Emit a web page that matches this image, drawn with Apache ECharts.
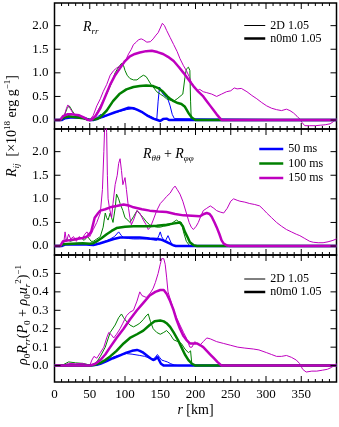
<!DOCTYPE html>
<html>
<head>
<meta charset="utf-8">
<script src="https://cdn.jsdelivr.net/npm/echarts@6/dist/echarts.min.js"></script>
<style>
  html, body { margin: 0; padding: 0; background: #fff; }
  #chart { width: 339px; height: 427px; }
</style>
</head>
<body>
<div id="chart"></div>
<script>
// colours per time slice
const timeNames = ['50 ms', '100 ms', '150 ms']
const timeColors = ['#0000ff', '#008000', '#bf00bf']
const modelNames = ['2D 1.05', 'n0m0 1.05']

// panel 1: R_rr  [km, 1e18 erg/g]
const rr2D50 = [[0,0],[10,0],[15,0.03],[20,0.06],[30,0.05],[40,0.04],[48,0.01],[52,0],[58,0.02],[62,0.08],[66,0.12],[68,0.05],[75,0.1],[83,0.15],[92,0.18],[102,0.22],[110,0.24],[121,0.2],[130,0.12],[140,0.05],[145,0],[147,0.4],[149,0.7],[152,0.6],[154,0.55],[157,0.5],[160,0.48],[164,0.3],[167,0.12],[170,0.03],[172,0],[400,0]]
const rrN50 = [[0,0],[10,0],[15,0.04],[25,0.06],[40,0.05],[50,0],[55,0],[65,0.05],[74,0.1],[85,0.16],[93,0.2],[105,0.26],[112,0.25],[117,0.22],[125,0.16],[131,0.1],[140,0.03],[146,0],[150,-0.02],[154,0.02],[159,0.03],[163,0],[400,0]]
const rr2D100 = [[0,0],[10,0],[14,0.1],[18,0.25],[21,0.3],[25,0.2],[30,0.08],[38,0.05],[45,0.02],[50,0],[55,0.02],[60,0.15],[67,0.35],[74,0.55],[80,0.75],[86,1.0],[90,1.1],[95,1.2],[98,1.15],[100,1.05],[103,0.95],[107,0.88],[112,0.85],[117,0.85],[121,0.9],[126,0.95],[130,0.92],[133,0.85],[137,0.75],[140,0.7],[145,0.6],[150,0.55],[155,0.5],[159,0.45],[164,0.42],[169,0.4],[174,0.45],[178,0.5],[182,0.55],[185,0.9],[187,1.08],[190,1.12],[192,1.05],[193,0.4],[194,0],[400,0]]
const rrN100 = [[0,0],[8,0],[12,0.05],[20,0.08],[30,0.06],[40,0.04],[50,0],[60,0.02],[65,0.06],[74,0.2],[83,0.4],[92,0.55],[102,0.65],[112,0.7],[121,0.72],[130,0.73],[140,0.72],[148,0.67],[154,0.6],[160,0.5],[164,0.45],[169,0.4],[175,0.36],[180,0.34],[185,0.28],[190,0.15],[195,0.05],[200,0],[400,0]]
const rr2D150 = [[0,0],[10,0],[14,0.1],[17,0.25],[19,0.32],[22,0.25],[26,0.15],[30,0.1],[36,0.05],[45,0.01],[50,0],[55,0.1],[60,0.3],[65,0.45],[69,0.6],[74,0.75],[79,0.95],[84,1.05],[88,1.1],[93,1.15],[98,1.2],[102,1.3],[105,1.4],[109,1.5],[112,1.6],[116,1.65],[119,1.7],[123,1.72],[126,1.7],[131,1.65],[136,1.66],[140,1.72],[144,1.8],[147,1.85],[150,1.95],[153,2.05],[156,2.0],[159,1.9],[164,1.75],[169,1.6],[174,1.45],[178,1.3],[183,1.15],[187,1.05],[191,0.92],[194,0.8],[198,0.7],[202,0.62],[206,0.65],[211,0.6],[216,0.58],[223,0.55],[230,0.5],[237,0.55],[244,0.6],[250,0.62],[255,0.68],[259,0.66],[265,0.67],[273,0.6],[280,0.52],[287,0.45],[294,0.37],[301,0.3],[308,0.25],[315,0.22],[322,0.2],[329,0.23],[334,0.2],[339,0.15],[344,0.08],[348,0.02],[351,-0.05],[355,-0.12],[362,-0.12],[370,-0.12],[377,-0.11],[384,-0.1],[391,-0.08],[396,-0.03],[400,0.03]]
const rrN150 = [[0,0],[8,0],[12,0.08],[18,0.12],[25,0.12],[35,0.1],[42,0.05],[48,0],[52,0],[58,0.08],[65,0.25],[72,0.5],[79,0.75],[86,0.95],[93,1.1],[100,1.25],[107,1.35],[114,1.4],[121,1.43],[130,1.46],[138,1.47],[146,1.44],[154,1.4],[161,1.34],[169,1.25],[176,1.13],[183,1.0],[190,0.86],[197,0.72],[204,0.6],[211,0.5],[216,0.4],[221,0.3],[226,0.2],[230,0.12],[234,0.05],[237,0],[400,0]]

// panel 2: R_thth + R_phph
const tt2D50 = [[0,0],[10,0],[15,0.05],[25,0.05],[35,0.06],[45,0.04],[52,0.02],[60,0.03],[65,0.05],[72,0.1],[79,0.15],[85,0.2],[91,0.3],[95,0.22],[98,0.18],[105,0.16],[112,0.15],[121,0.15],[131,0.15],[140,0.13],[145,0.12],[148,0.22],[150,0.3],[152,0.2],[154,0.15],[157,0.1],[159,0.1],[161,0.22],[163,0.15],[166,0.05],[169,0],[400,0]]
const ttN50 = [[0,0],[10,0],[15,0.03],[30,0.04],[45,0.03],[55,0.02],[65,0.06],[74,0.1],[84,0.15],[93,0.18],[105,0.18],[121,0.18],[135,0.16],[145,0.15],[150,0.14],[154,0.12],[160,0.08],[164,0.05],[168,0.02],[172,0],[400,0]]
const tt2D100 = [[0,0],[10,0],[13,0.1],[18,0.15],[22,0.1],[27,0.12],[32,0.15],[37,0.18],[42,0.12],[47,0.2],[52,0.1],[55,0.1],[60,0.15],[65,0.2],[69,0.4],[72,0.7],[74,0.6],[76,0.55],[79,0.7],[81,0.6],[83,0.5],[86,0.8],[88,1.1],[91,1.0],[93,0.9],[97,0.75],[100,0.6],[104,0.55],[107,0.5],[112,0.62],[117,0.75],[121,0.68],[126,0.6],[130,0.52],[135,0.45],[140,0.42],[145,0.4],[150,0.4],[155,0.42],[160,0.43],[164,0.45],[168,0.5],[173,0.55],[176,0.52],[180,0.5],[183,0.3],[187,0.1],[192,0],[400,0]]
const ttN100 = [[0,0],[8,0],[12,0.04],[25,0.05],[40,0.06],[50,0.05],[55,0.06],[60,0.1],[67,0.17],[74,0.25],[81,0.32],[88,0.38],[100,0.41],[112,0.42],[125,0.42],[135,0.42],[145,0.43],[159,0.45],[170,0.48],[178,0.5],[182,0.42],[185,0.3],[189,0.18],[192,0.08],[197,0.02],[202,0],[400,0]]
const tt2D150 = [[0,0],[10,0],[13,0.05],[15,0.3],[17,0.1],[20,0.25],[23,0.15],[27,0.2],[31,0.1],[35,0.2],[39,0.15],[43,0.25],[46,0.3],[50,0.2],[55,0.35],[60,0.5],[65,0.7],[68,1.2],[70,2.0],[72,2.9],[74,2.4],[75,1.5],[76,1.0],[78,0.8],[81,0.6],[83,0.9],[86,1.3],[89,1.5],[91,1.75],[93,1.85],[95,1.6],[97,1.3],[99,1.4],[100,1.45],[102,1.2],[105,0.8],[107,0.6],[109,0.45],[112,0.55],[117,0.75],[121,0.7],[126,0.55],[130,0.45],[133,0.35],[136,0.4],[140,0.55],[145,0.75],[150,0.9],[155,0.98],[159,1.05],[164,1.12],[168,1.22],[171,1.27],[174,1.2],[178,1.1],[182,0.95],[187,0.7],[191,0.5],[194,0.4],[197,0.35],[201,0.42],[204,0.5],[208,0.65],[211,0.75],[216,0.8],[221,0.85],[226,0.8],[230,0.75],[235,0.72],[240,0.7],[245,0.8],[250,0.95],[254,1.0],[259,0.97],[263,0.95],[270,0.93],[277,0.9],[284,0.88],[291,0.85],[296,0.78],[301,0.7],[308,0.6],[315,0.5],[322,0.42],[329,0.35],[336,0.3],[343,0.25],[348,0.22],[355,0.16],[362,0.1],[367,0.08],[374,0.07],[381,0.07],[388,0.09],[395,0.12],[400,0.15]]
const ttN150 = [[0,0],[8,0],[12,0.1],[20,0.12],[31,0.15],[40,0.17],[46,0.2],[52,0.3],[57,0.6],[62,0.7],[65,0.75],[72,0.78],[79,0.82],[88,0.85],[98,0.88],[105,0.86],[112,0.82],[124,0.78],[135,0.75],[147,0.73],[159,0.72],[171,0.68],[183,0.65],[195,0.64],[206,0.63],[212,0.68],[216,0.7],[220,0.68],[223,0.62],[227,0.5],[230,0.4],[234,0.25],[237,0.12],[240,0.05],[245,0.01],[249,0],[400,0]]

// panel 3: rho0 R_rr / (P0 + rho0 u_r^2)
const pr2D50 = [[0,0],[10,0],[20,0.003],[40,0.004],[50,0],[60,0.005],[65,0.015],[70,0.02],[76,0.03],[83,0.045],[90,0.055],[96,0.06],[102,0.065],[110,0.062],[121,0.055],[128,0.05],[135,0.04],[140,0.035],[143,0.045],[146,0.06],[149,0.045],[152,0.03],[156,0.025],[160,0.02],[165,0.01],[170,0.003],[175,0],[400,0]]
const prN50 = [[0,0],[50,0],[60,0.005],[65,0.01],[74,0.025],[83,0.04],[93,0.055],[102,0.07],[110,0.08],[117,0.085],[121,0.08],[126,0.07],[131,0.055],[136,0.04],[140,0.03],[143,0.035],[146,0.047],[148,0.04],[151,0.01],[155,0],[400,0]]
const pr2D100 = [[0,0],[10,0],[15,0.01],[20,0.02],[30,0.015],[40,0.012],[48,0.005],[52,0],[60,0.02],[65,0.05],[72,0.1],[79,0.18],[86,0.22],[91,0.26],[95,0.28],[98,0.26],[102,0.24],[107,0.22],[112,0.21],[117,0.22],[121,0.23],[126,0.25],[130,0.27],[133,0.28],[136,0.24],[140,0.2],[145,0.18],[150,0.17],[155,0.18],[159,0.19],[164,0.17],[169,0.14],[175,0.13],[180,0.12],[185,0.09],[190,0.07],[193,0.08],[195,0],[400,0]]
const prN100 = [[0,0],[50,0],[58,0.005],[65,0.015],[72,0.03],[79,0.05],[88,0.08],[98,0.12],[107,0.15],[117,0.17],[126,0.19],[135,0.22],[142,0.24],[150,0.245],[155,0.24],[159,0.23],[164,0.21],[169,0.18],[175,0.14],[180,0.1],[185,0.06],[190,0.03],[195,0.01],[200,0],[400,0]]
const pr2D150 = [[0,0],[10,0],[15,0.005],[20,0.012],[30,0.01],[40,0.012],[47,0.005],[50,0],[53,0.03],[56,0.05],[60,0.04],[65,0.07],[70,0.1],[74,0.15],[77,0.18],[80,0.17],[84,0.15],[88,0.17],[93,0.2],[97,0.23],[102,0.27],[107,0.29],[112,0.3],[117,0.35],[121,0.4],[124,0.38],[126,0.39],[130,0.37],[133,0.38],[137,0.4],[140,0.42],[143,0.45],[147,0.5],[150,0.55],[152,0.58],[155,0.58],[157,0.55],[159,0.48],[161,0.4],[165,0.35],[169,0.3],[173,0.26],[178,0.22],[183,0.18],[187,0.15],[190,0.12],[192,0.1],[195,0.1],[199,0.13],[202,0.12],[206,0.11],[211,0.13],[216,0.15],[221,0.145],[230,0.13],[240,0.12],[250,0.11],[260,0.1],[270,0.095],[282,0.09],[290,0.085],[301,0.07],[308,0.06],[315,0.05],[322,0.05],[329,0.055],[336,0.045],[343,0.03],[348,0.01],[352,-0.02],[357,-0.035],[365,-0.03],[372,-0.03],[380,-0.025],[387,-0.02],[393,-0.01],[398,0.005],[400,0.01]]
const prN150 = [[0,0],[50,0],[58,0.01],[65,0.03],[72,0.06],[79,0.1],[88,0.15],[98,0.2],[107,0.25],[117,0.3],[126,0.34],[135,0.38],[143,0.4],[150,0.41],[155,0.41],[159,0.39],[164,0.35],[169,0.3],[173,0.25],[178,0.2],[183,0.16],[187,0.14],[192,0.12],[197,0.12],[202,0.12],[207,0.11],[211,0.1],[216,0.08],[221,0.06],[226,0.04],[231,0.02],[237,0],[400,0]]

const panels = [
  { thin: [rr2D50, rr2D100, rr2D150], thick: [rrN50, rrN100, rrN150], yMin: -0.19, yMax: 2.48, yTicks: [0, 0.5, 1.0, 1.5, 2.0] },
  { thin: [tt2D50, tt2D100, tt2D150], thick: [ttN50, ttN100, ttN150], yMin: -0.19, yMax: 2.48, yTicks: [0, 0.5, 1.0, 1.5, 2.0] },
  { thin: [pr2D50, pr2D100, pr2D150], thick: [prN50, prN100, prN150], yMin: -0.089, yMax: 0.6, yTicks: [0, 0.1, 0.2, 0.3, 0.4, 0.5] }
]
const xTicks = [0, 50, 100, 150, 200, 250, 300, 350]
const xMajorTicks = [0, 50, 100, 150, 200, 250, 300, 350, 400]
const xMinorTicks = []
for (let v = 10; v < 400; v += 10) if (v % 50 !== 0) xMinorTicks.push(v)

const serif = 'Liberation Serif'
const gridTops = [3, 129, 255]
const gridHeights = [126, 126, 127]
const black = '#000'
const xMin = 0
const xMax = 400

const grids = []
const xAxes = []
const yAxes = []
const series = []

panels.forEach((p, g) => {
  grids.push({
    left: 54.5, right: 2.5, top: gridTops[g], height: gridHeights[g],
    show: true, borderColor: black, borderWidth: 1.5, backgroundColor: 'transparent'
  })
  ;['bottom', 'top'].forEach((pos) => {
    xAxes.push({
      type: 'value', gridIndex: g, position: pos, min: xMin, max: xMax, interval: 50,
      axisLine: { show: false, onZero: false },
      axisTick: { show: false },
      axisLabel: {
        show: g === 2 && pos === 'bottom', margin: 6, color: black, fontFamily: serif, fontSize: 13,
        customValues: xTicks
      },
      splitLine: { show: false }
    })
  })
  ;['left', 'right'].forEach((pos) => {
    yAxes.push({
      type: 'value', gridIndex: g, position: pos, min: p.yMin, max: p.yMax,
      axisLine: { show: false, onZero: false },
      axisTick: { show: false },
      axisLabel: {
        show: pos === 'left', margin: 6, color: black, fontFamily: serif, fontSize: 13,
        customValues: p.yTicks,
        formatter: (v) => v.toFixed(1)
      },
      splitLine: { show: false }
    })
  })

  // inward ticks on all four sides, placed through the panel's own scales
  const tickData = []
  xMajorTicks.forEach((v) => tickData.push([0, v, 6]))
  xMinorTicks.forEach((v) => tickData.push([0, v, 3]))
  p.yTicks.forEach((v) => tickData.push([1, v, 6]))
  series.push({
    type: 'custom', xAxisIndex: 2 * g, yAxisIndex: 2 * g, data: tickData, clip: false,
    silent: true, animation: false, z: 5,
    dimensions: ['kind', 'val', 'len'],
    encode: { x: -1, y: -1 },
    renderItem: (params, api) => {
      const kind = api.value(0)
      const v = api.value(1)
      const len = api.value(2)
      const st = { stroke: black, lineWidth: 1 }
      if (kind === 0) {
        const b = api.coord([v, p.yMin])
        const t = api.coord([v, p.yMax])
        return { type: 'group', children: [
          { type: 'line', shape: { x1: b[0], y1: b[1], x2: b[0], y2: b[1] - len }, style: st },
          { type: 'line', shape: { x1: t[0], y1: t[1], x2: t[0], y2: t[1] + len }, style: st }
        ] }
      }
      const l = api.coord([xMin, v])
      const r = api.coord([xMax, v])
      return { type: 'group', children: [
        { type: 'line', shape: { x1: l[0], y1: l[1], x2: l[0] + len, y2: l[1] }, style: st },
        { type: 'line', shape: { x1: r[0], y1: r[1], x2: r[0] - len, y2: r[1] }, style: st }
      ] }
    }
  })

  const addLine = (data, color, width, name) => {
    series.push({
      type: 'line', name: name, xAxisIndex: 2 * g, yAxisIndex: 2 * g, data: data,
      symbol: 'none', silent: true, animation: false,
      lineStyle: { color: color, width: width }
    })
  }
  p.thin.forEach((d, i) => addLine(d, timeColors[i], 1, 'p' + g + ' 2D ' + timeNames[i]))
  p.thick.forEach((d, i) => addLine(d, timeColors[i], 2.5, 'p' + g + ' n0m0 ' + timeNames[i]))
})

// legend-only series
modelNames.forEach((n, i) => {
  series.push({ type: 'line', name: n, data: [], symbol: 'none', xAxisIndex: 0, yAxisIndex: 0,
    lineStyle: { color: black, width: i === 0 ? 1 : 2.5 }, itemStyle: { color: black, opacity: 0 } })
})
timeNames.forEach((n, i) => {
  series.push({ type: 'line', name: n, data: [], symbol: 'none', xAxisIndex: 0, yAxisIndex: 0,
    lineStyle: { color: timeColors[i], width: 2.5 }, itemStyle: { color: timeColors[i], opacity: 0 } })
})

const modelItems = modelNames.map((n, i) => ({ name: n, lineStyle: { width: i === 0 ? 1 : 2.5 } }))
const timeItems = timeNames.map((n) => ({ name: n, lineStyle: { width: 2.5 } }))
const legendText = { color: black, fontFamily: serif, fontSize: 12 }
const legends = [
  { data: modelItems, left: 243, top: 19.5, itemWidth: 21, itemHeight: 12, itemGap: 1 },
  { data: timeItems, left: 258, top: 143, itemWidth: 24, itemHeight: 12, itemGap: 2.5 },
  { data: modelItems, left: 243, top: 273, itemWidth: 21, itemHeight: 12, itemGap: 1 }
].map((l) => Object.assign({
  orient: 'vertical', padding: 0, selectedMode: false, textStyle: legendText,
  itemStyle: { opacity: 0 }
}, l))

const rich = {
  m: { fontFamily: serif, fontStyle: 'italic', fontSize: 14, lineHeight: 18, fill: black },
  n: { fontFamily: serif, fontSize: 14, lineHeight: 18, fill: black },
  sb: { fontFamily: serif, fontStyle: 'italic', fontSize: 9, lineHeight: 10, verticalAlign: 'bottom', fill: black },
  sn: { fontFamily: serif, fontSize: 9, lineHeight: 10, verticalAlign: 'bottom', fill: black },
  sp: { fontFamily: serif, fontSize: 9, lineHeight: 10, verticalAlign: 'top', fill: black }
}
const textEl = (text, x, y, rot, align) => ({
  type: 'text', x: x, y: y, rotation: rot || 0, silent: true,
  style: { text: text, rich: rich, align: align || 'center', verticalAlign: 'middle', fill: black, font: '14px ' + serif }
})

const option = {
  animation: false,
  grid: grids,
  xAxis: xAxes,
  yAxis: yAxes,
  legend: legends,
  series: series,
  graphic: [
    textEl('{m|R}{sb|rr}', 83, 27, 0, 'left'),
    textEl('{m|R}{sb|θθ}{n| + }{m|R}{sb|φφ}', 143, 154, 0, 'left'),
    textEl('{m|R}{sb|ij}{n|  [×10}{sp|18}{n| erg g}{sp|−1}{n|]}', 12, 126, Math.PI / 2),
    textEl('{m|ρ}{sn|0}{m|R}{sb|rr}{n|(}{m|P}{sn|0}{n| + }{m|ρ}{sn|0}{m|u}{sb|r}{sp|2}{n|)}{sp|−1}', 23, 315, Math.PI / 2),
    textEl('{m|r}{n| [km]}', 195.5, 410, 0)
  ]
}

const chart = echarts.init(document.getElementById('chart'), null, { renderer: 'canvas' })
chart.setOption(option)
</script>
</body>
</html>
